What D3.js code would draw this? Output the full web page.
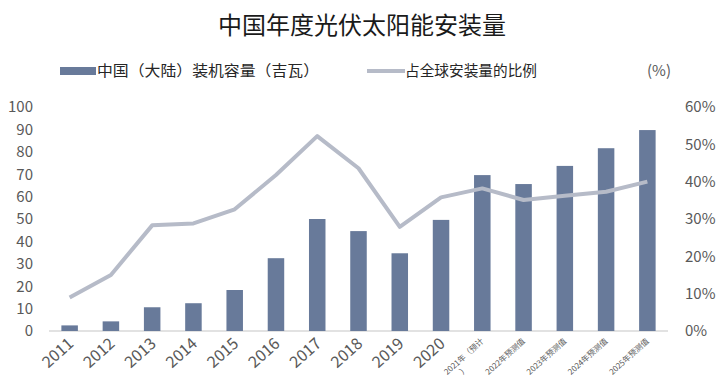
<!DOCTYPE html>
<html>
<head>
<meta charset="utf-8">
<script src="https://cdn.jsdelivr.net/npm/d3@7"></script>
<style>
  body { margin: 0; background: #fff; }
  text { font-family: "Noto Sans CJK SC", "Noto Sans", sans-serif; }
</style>
</head>
<body>
<div id="chart"></div>
<script>
const categories = ["2011", "2012", "2013", "2014", "2015", "2016", "2017", "2018", "2019", "2020",
  "2021年（预计\n）", "2022年预测值", "2023年预测值", "2024年预测值", "2025年预测值"]
const capacity = [2.5, 4.3, 10.6, 12.4, 18.3, 32.5, 50, 44.6, 34.7, 49.6, 69.6, 65.6, 73.7, 81.6, 89.7]
const share = [9.0, 15.0, 28.3, 28.8, 32.6, 41.8, 52.2, 43.6, 27.9, 35.8, 38.2, 35.1, 36.2, 37.3, 40.0]
const leftTicks = [0, 10, 20, 30, 40, 50, 60, 70, 80, 90, 100]
const rightTicks = [0, 10, 20, 30, 40, 50, 60]

const width = 720
const height = 392
const barColor = "#687a9a"
const lineColor = "#b6bbc8"
const textColor = "#595959"

const svg = d3.select("#chart").append("svg")
  .attr("width", width)
  .attr("height", height)

const x = d3.scaleBand()
  .domain(categories)
  .range([49, 668])
  .paddingInner(0.6)
  .paddingOuter(0.3)

const y = d3.scaleLinear().domain([0, 100]).range([331, 107])
const y2 = d3.scaleLinear().domain([0, 60]).range([331, 107])

// title
svg.append("text")
  .attr("x", 362)
  .attr("y", 34)
  .attr("text-anchor", "middle")
  .attr("font-size", 24)
  .attr("fill", "#1a1a1a")
  .text("中国年度光伏太阳能安装量")

// legend
svg.append("rect")
  .attr("x", 60).attr("y", 67)
  .attr("width", 36).attr("height", 8)
  .attr("fill", barColor)
svg.append("text")
  .attr("x", 97).attr("y", 76)
  .attr("font-size", 15)
  .attr("fill", "#262626")
  .attr("textLength", 222)
  .attr("lengthAdjust", "spacingAndGlyphs")
  .text("中国（大陆）装机容量（吉瓦）")
svg.append("line")
  .attr("x1", 367).attr("x2", 405)
  .attr("y1", 71).attr("y2", 71)
  .attr("stroke", lineColor)
  .attr("stroke-width", 4)
svg.append("text")
  .attr("x", 405).attr("y", 76)
  .attr("font-size", 15)
  .attr("fill", "#262626")
  .attr("textLength", 132)
  .attr("lengthAdjust", "spacingAndGlyphs")
  .text("占全球安装量的比例")
svg.append("text")
  .attr("x", 647).attr("y", 76)
  .attr("font-size", 15)
  .attr("fill", textColor)
  .text("(%)")

// left axis
const leftAxis = svg.append("g")
  .attr("transform", "translate(33,0)")
  .call(d3.axisLeft(y).tickValues(leftTicks).tickSize(0).tickPadding(0))
leftAxis.select(".domain").remove()
leftAxis.selectAll("text")
  .attr("font-size", 15)
  .attr("fill", textColor)
  .attr("font-family", "Noto Sans, sans-serif")

// right axis
const rightAxis = svg.append("g")
  .attr("transform", "translate(685,0)")
  .call(d3.axisRight(y2).tickValues(rightTicks).tickSize(0).tickPadding(0).tickFormat(d => d + "%"))
rightAxis.select(".domain").remove()
rightAxis.selectAll("text")
  .attr("font-size", 15)
  .attr("fill", textColor)
  .attr("font-family", "Noto Sans, sans-serif")

// baseline
svg.append("line")
  .attr("x1", 49).attr("x2", 668)
  .attr("y1", y(0)).attr("y2", y(0))
  .attr("stroke", "#d9d9d9")
  .attr("stroke-width", 1.5)

// bars
svg.append("g")
  .selectAll("rect")
  .data(capacity)
  .join("rect")
  .attr("x", (d, i) => x(categories[i]))
  .attr("width", x.bandwidth())
  .attr("y", d => y(d))
  .attr("height", d => y(0) - y(d))
  .attr("fill", barColor)

// share line
const line = d3.line()
  .x((d, i) => x(categories[i]) + x.bandwidth() / 2)
  .y(d => y2(d))

svg.append("path")
  .datum(share)
  .attr("d", line)
  .attr("fill", "none")
  .attr("stroke", lineColor)
  .attr("stroke-width", 4)
  .attr("stroke-linejoin", "round")

// x labels, rotated
const xLabels = svg.append("g")
  .selectAll("g")
  .data(categories)
  .join("g")
  .attr("transform", d => {
    const cx = x(d) + x.bandwidth() / 2
    return d.length > 4
      ? `translate(${cx + 2},${y(0) + 11}) rotate(-42)`
      : `translate(${cx + 5},${y(0) + 14}) rotate(-42)`
  })

xLabels.each(function(d) {
  const g = d3.select(this)
  const lines = d.split("\n")
  const small = d.length > 4
  g.append("text")
    .attr("text-anchor", "end")
    .attr("font-size", small ? 8 : 16)
    .attr("fill", textColor)
    .attr("font-family", small ? "Noto Sans CJK SC, sans-serif" : "Noto Sans, sans-serif")
    .selectAll("tspan")
    .data(lines)
    .join("tspan")
    .attr("x", (t, i) => i === 0 ? 0 : -30)
    .attr("dy", (t, i) => i === 0 ? 0 : 10)
    .text(t => t)
})
</script>
</body>
</html>
